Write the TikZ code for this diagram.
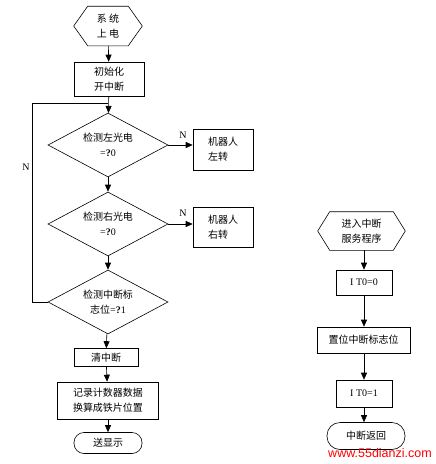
\documentclass[tikz,border=0pt]{standalone}
\usepackage{fontspec}
\setmainfont{Liberation Serif}
\newfontfamily\cjk{Noto Sans CJK SC}
\newfontfamily\wmfont{Liberation Sans}
\usetikzlibrary{arrows.meta,shapes.geometric}
\newcommand{\qm}{{\rmfamily\bfseries ?}}

\begin{document}
\begin{tikzpicture}[x=1pt,y=-1pt,line width=0.6pt,
  cn/.style={font=\cjk\fontsize{10}{15}\selectfont},
  hexa/.style={cn,inner sep=0pt,align=center},
  procbox/.style={draw,cn,inner sep=0pt,align=center},
  decbox/.style={draw,diamond,cn,aspect=2,inner sep=0pt,minimum width=120pt,minimum height=64pt,align=center},
  termbox/.style={draw,cn,inner sep=0pt},
  flow/.style={-{Triangle[length=7pt,width=6pt]}}]
  \useasboundingbox (0,0) rectangle (436,464);
  % main program (left)
  \node[hexa,minimum width=68pt,minimum height=39pt] (pwr) at (108,26) {系\ 统\\上\ 电};
  \draw ([xshift=14pt]pwr.north west) -- ([xshift=-14pt]pwr.north east) -- (pwr.east)
    -- ([xshift=-14pt]pwr.south east) -- ([xshift=14pt]pwr.south west) -- (pwr.west) -- cycle;
  \node[procbox,minimum width=70pt,minimum height=34pt] (init) at (109,79) {初始化\\开中断};
  \node[decbox] (chkl) at (108,145) {检测左光电\\{\rmfamily=}\qm{\rmfamily 0}};
  \node[decbox] (chkr) at (108,224) {检测右光电\\{\rmfamily=}\qm{\rmfamily 0}};
  \node[decbox] (chkf) at (108,302) {检测中断标\\志位{\rmfamily=}\qm{\rmfamily 1}};
  \node[procbox,minimum width=60pt,minimum height=41pt,align=left] (turnl) at (223,149.5) {机器人\\左转};
  \node[procbox,minimum width=60pt,minimum height=40pt,align=left] (turnr) at (223,227) {机器人\\右转};
  \node[procbox,minimum width=64pt,minimum height=18pt] (clr) at (106,357.5) {清中断};
  \node[procbox,minimum width=101pt,minimum height=37pt,align=left] (calc) at (108,400.5) {记录计数器数据\\换算成铁片位置};
  \node[termbox,rounded corners=10pt,minimum width=68pt,minimum height=21pt] (disp) at (108,443) {送显示};
  \draw[flow] (pwr) -- (init);
  \draw[flow] (init) -- (chkl);
  \draw[flow] (chkl) -- (chkr);
  \draw[flow] (chkr) -- (chkf);
  \draw[flow] (chkf) -- (clr);
  \draw[flow] (clr) -- (calc);
  \draw[flow] (calc) -- (disp);
  \draw[flow] (chkl.east) -- (chkl.east -| turnl.west);
  \draw[flow] (chkr.east) -- (chkr.east -| turnr.west);
  \node (nl) at (183,135) {N};
  \node (nr) at (183,213) {N};
  % loop back
  \coordinate (lpc) at (32,103);
  \coordinate (lpj) at (108,103);
  \draw (chkf.west) -| (lpc) -- (lpj);
  \node (nb) at (26,167) {N};
  % interrupt routine (right)
  \node[hexa,minimum width=87pt,minimum height=38pt] (isr) at (361.5,231) {进入中断\\服务程序};
  \draw ([xshift=12pt]isr.north west) -- ([xshift=-12pt]isr.north east) -- (isr.east)
    -- ([xshift=-12pt]isr.south east) -- ([xshift=12pt]isr.south west) -- (isr.west) -- cycle;
  \node[procbox,font=\fontsize{10}{15}\selectfont,minimum width=56pt,minimum height=25pt] (itz) at (364,282.5) {I T0=0};
  \node[procbox,minimum width=93pt,minimum height=26pt] (setf) at (363.5,340) {置位中断标志位};
  \node[procbox,font=\fontsize{10}{15}\selectfont,minimum width=56pt,minimum height=27pt] (ito) at (364,393.5) {I T0=1};
  \node[termbox,rounded corners=13pt,minimum width=78pt,minimum height=27pt] (ret) at (366,436) {中断返回};
  \draw[flow] (isr.south -| itz) -- (itz);
  \draw[flow] (itz) -- (itz |- setf.north);
  \draw[flow] (itz |- setf.south) -- (ito);
  \draw[flow] (ito) -- (ito |- ret.north);
  \node[text=red,font=\wmfont\fontsize{12.5}{14}\selectfont] (wm) at (380,453) {www.55dianzi.com};
\end{tikzpicture}
\end{document}
